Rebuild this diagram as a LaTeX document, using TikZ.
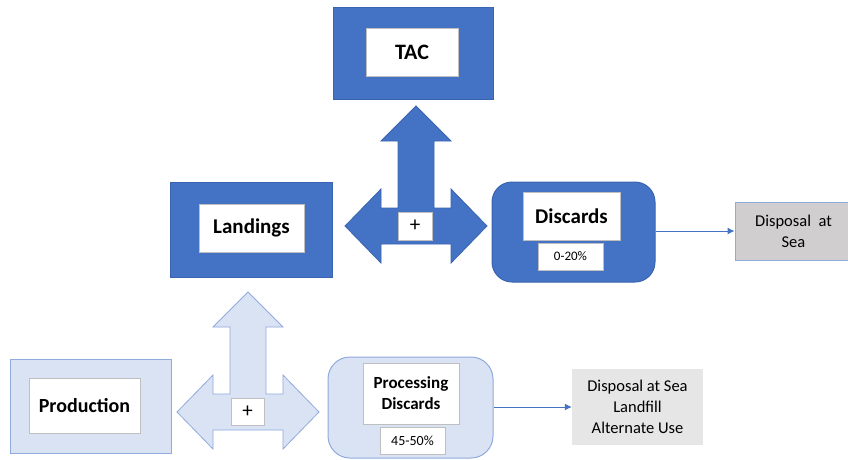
\documentclass[tikz,border=0pt]{standalone}
\usepackage{fontspec}
\setmainfont{Carlito}
\usetikzlibrary{arrows.meta}
\definecolor{darkblue}{HTML}{4472C4}
\definecolor{darkedge}{HTML}{3A64B0}
\definecolor{lightblue}{HTML}{DAE3F3}
\definecolor{lightedge}{HTML}{8FAADC}
\definecolor{whiteedge}{HTML}{BFBFBF}
\definecolor{greyone}{HTML}{D0CECE}
\definecolor{greytwo}{HTML}{E7E6E6}
\begin{document}
\begin{tikzpicture}[x=1pt,y=-1pt,
    darkbox/.style={draw=darkedge,fill=darkblue,line width=1pt},
    lightbox/.style={draw=lightedge,fill=lightblue,line width=1pt},
    whitebox/.style={draw=whiteedge,fill=white,line width=0.8pt,align=center,inner sep=0pt},
    greybox/.style={fill=#1,align=center,inner sep=0pt,font=\fontsize{16.5}{21}\selectfont},
    link/.style={draw=darkblue,line width=1pt,-{Latex[length=7pt,width=7pt]}}]
\useasboundingbox (0,0) rectangle (848,459);
% flechas en cruz
\foreach \cx/\cy/\fc/\dc in {416/226/darkblue/darkedge, 248/412/lightblue/lightedge}
  \draw[fill=\fc,draw=\dc,line width=0.8pt,shift={(\cx,\cy)}]
    (0,-120) -- (35,-85) -- (18,-85) -- (18,-18) -- (35,-18) -- (35,-37)
    -- (71,0) -- (35,37) -- (35,18) -- (-35,18) -- (-35,37) -- (-71,0)
    -- (-35,-37) -- (-35,-18) -- (-18,-18) -- (-18,-85) -- (-35,-85) -- cycle;
\node[whitebox,minimum width=34pt,minimum height=28pt,font=\fontsize{21}{21}\selectfont] (plusa) at (415,226) {+};
\node[whitebox,minimum width=33pt,minimum height=27pt,font=\fontsize{21}{21}\selectfont] (plusb) at (247.5,411.5) {+};
% TAC
\node[darkbox,minimum width=160pt,minimum height=92pt] (tacbox) at (413,53) {};
\node[whitebox,minimum width=92pt,minimum height=48pt,font=\bfseries\fontsize{22}{22}\selectfont] (tac) at (412,52) {TAC};
% Landings
\node[darkbox,minimum width=162pt,minimum height=95pt] (landbox) at (251,229.5) {};
\node[whitebox,minimum width=105pt,minimum height=48pt,font=\bfseries\fontsize{21}{21}\selectfont] (land) at (251.5,228) {Landings};
% Discards
\node[darkbox,rounded corners=20pt,minimum width=163pt,minimum height=100pt] (discbox) at (573.5,232) {};
\node[whitebox,minimum width=97pt,minimum height=48pt,font=\bfseries\fontsize{21}{21}\selectfont] (disc) at (571.5,216) {Discards};
\node[whitebox,minimum width=65pt,minimum height=27pt,font=\fontsize{13}{13}\selectfont] (discpct) at (570.5,256.5) {0-20\%};
\node[greybox=greyone,draw=lightedge,line width=1pt,minimum width=117pt,minimum height=58pt] (dispsea) at (793.5,231) {Disposal\ \ at\\Sea};
% Production
\node[lightbox,minimum width=161pt,minimum height=94pt] (prodbox) at (90.5,406) {};
\node[whitebox,minimum width=111pt,minimum height=55pt,font=\bfseries\fontsize{20}{20}\selectfont] (prod) at (84.5,405.5) {Production};
% Processing Discards
\node[lightbox,rounded corners=22pt,minimum width=165pt,minimum height=101pt] (procbox) at (410.5,407.5) {};
\node[whitebox,minimum width=96pt,minimum height=61pt,font=\bfseries\fontsize{17}{21}\selectfont] (proc) at (411,393.5) {Processing\\Discards};
\node[whitebox,minimum width=65pt,minimum height=27pt,font=\fontsize{14}{14}\selectfont] (procpct) at (412.5,440.5) {45-50\%};
\node[greybox=greytwo,minimum width=131pt,minimum height=76pt] (dispother) at (637.5,407) {Disposal\ at Sea\\Landfill\\Alternate Use};
% conectores
\draw[link] (discbox.east |- dispsea.west) -- (dispsea.west);
\draw[link] (procbox.east |- dispother.west) -- (dispother.west);
\end{tikzpicture}
\end{document}
